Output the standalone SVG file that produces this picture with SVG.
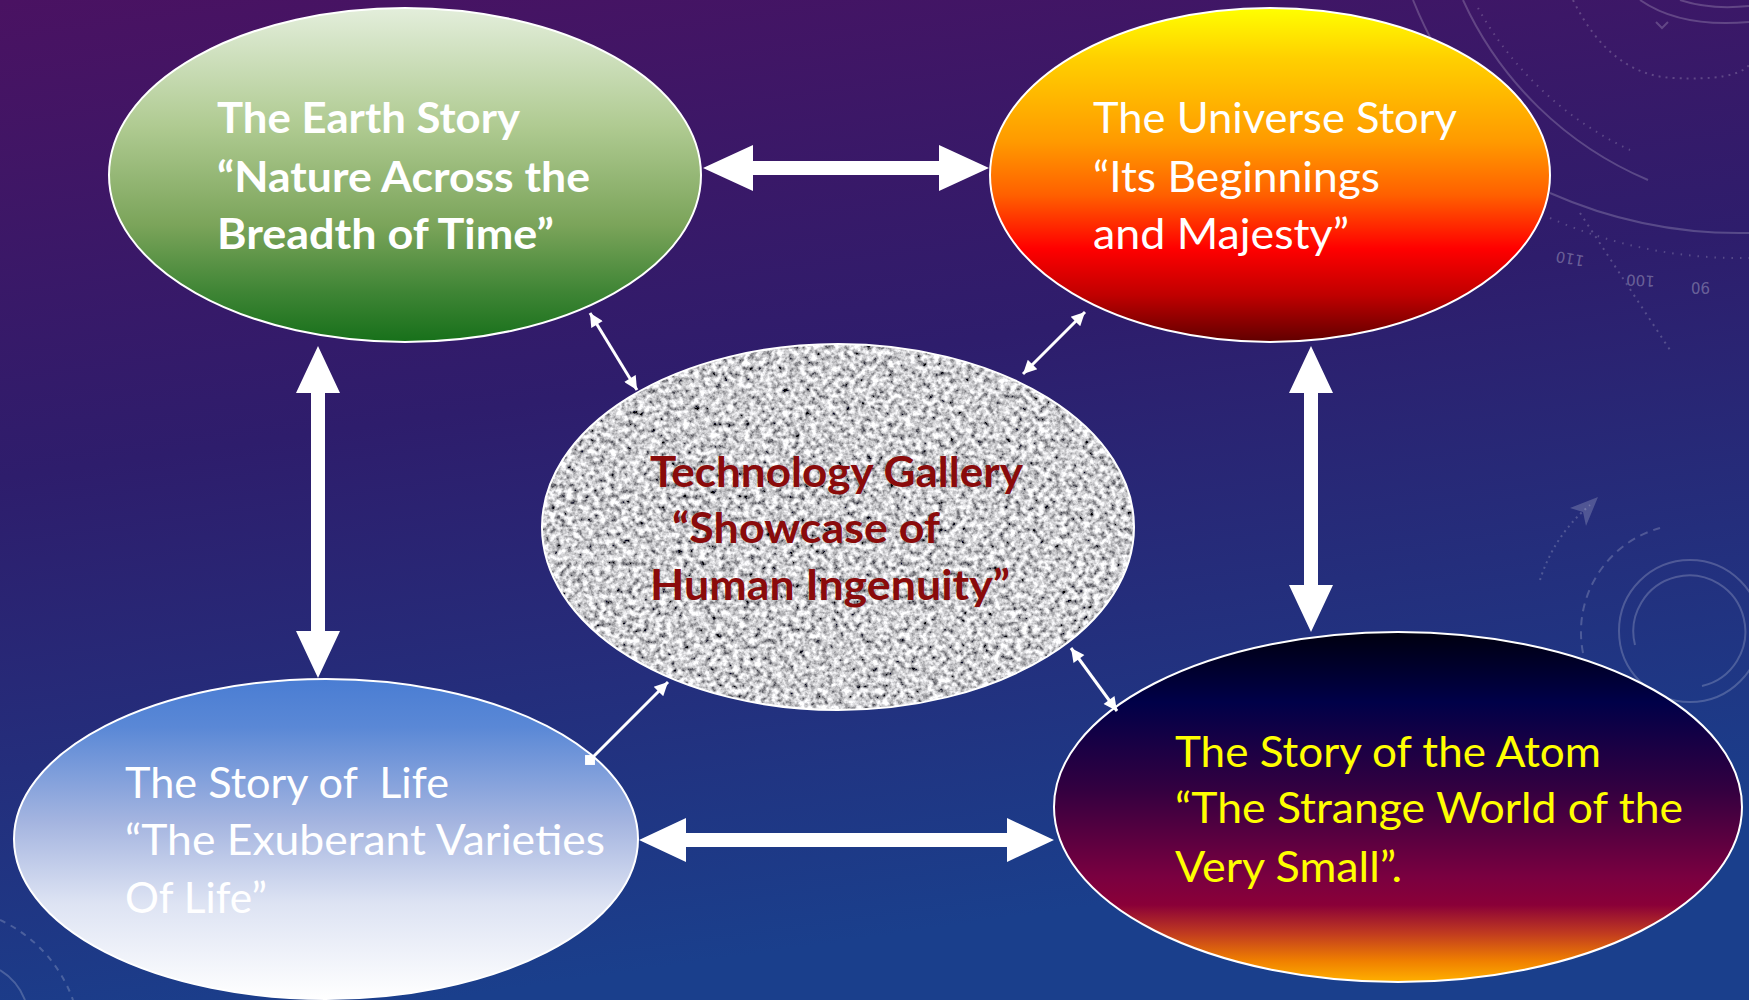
<svg xmlns="http://www.w3.org/2000/svg" width="1749" height="1000" viewBox="0 0 1749 1000">
<defs>
<linearGradient id="bg" x1="0" y1="0" x2="0.25" y2="1">
<stop offset="0" stop-color="#4a1262"/>
<stop offset="0.45" stop-color="#2e1d6c"/>
<stop offset="1" stop-color="#1a3f8c"/>
</linearGradient>
<linearGradient id="gEarth" x1="0" y1="0" x2="0" y2="1">
<stop offset="0" stop-color="#e3eedb"/>
<stop offset="0.35" stop-color="#b0cb92"/>
<stop offset="0.65" stop-color="#7ba45a"/>
<stop offset="0.85" stop-color="#3f8535"/>
<stop offset="1" stop-color="#17701a"/>
</linearGradient>
<linearGradient id="gUni" x1="0" y1="0" x2="0" y2="1">
<stop offset="0" stop-color="#ffff00"/>
<stop offset="0.15" stop-color="#ffd000"/>
<stop offset="0.4" stop-color="#ff9a00"/>
<stop offset="0.56" stop-color="#ff6000"/>
<stop offset="0.72" stop-color="#ff0000"/>
<stop offset="0.86" stop-color="#c00000"/>
<stop offset="1" stop-color="#600000"/>
</linearGradient>
<linearGradient id="gLife" x1="0" y1="0" x2="0" y2="1">
<stop offset="0" stop-color="#4a7dd3"/>
<stop offset="0.15" stop-color="#5a88d6"/>
<stop offset="0.45" stop-color="#a5b5e0"/>
<stop offset="0.7" stop-color="#dde3f3"/>
<stop offset="1" stop-color="#ffffff"/>
</linearGradient>
<linearGradient id="gAtom" x1="0" y1="0" x2="0" y2="1">
<stop offset="0" stop-color="#000010"/>
<stop offset="0.2" stop-color="#000048"/>
<stop offset="0.45" stop-color="#330040"/>
<stop offset="0.7" stop-color="#7a0040"/>
<stop offset="0.78" stop-color="#8a0038"/>
<stop offset="0.86" stop-color="#c03a20"/>
<stop offset="0.94" stop-color="#f08000"/>
<stop offset="1" stop-color="#ffb000"/>
</linearGradient>
<filter id="noise" x="0" y="0" width="100%" height="100%">
<feTurbulence type="fractalNoise" baseFrequency="0.18" numOctaves="3" seed="7" result="t"/>
<feColorMatrix in="t" type="matrix" values="2.0 0 0 0 -0.38  2.0 0 0 0 -0.38  2.0 0 0 0 -0.36  0 0 0 0 1" result="g"/>
<feComposite in="g" in2="SourceGraphic" operator="in"/>
</filter>
<marker id="ah" viewBox="0 0 10 10" refX="10" refY="5" markerWidth="5" markerHeight="4.5" orient="auto-start-reverse" markerUnits="strokeWidth">
<path d="M0,0 L10,5 L0,10 z" fill="#ffffff"/>
</marker>
<marker id="sq" viewBox="0 0 10 10" refX="5" refY="5" markerWidth="3.3" markerHeight="3.3" orient="0" markerUnits="strokeWidth">
<rect x="0" y="0" width="10" height="10" fill="#ffffff"/>
</marker>
<style>
.node{stroke:#ffffff;stroke-width:2}
.t{font-family:Lato,"Open Sans","Liberation Sans",sans-serif;font-size:42px}
.b{font-weight:bold}
.deco{fill:none;stroke:#ffffff;stroke-opacity:0.2;stroke-width:2}
.num{font-family:"DejaVu Sans",sans-serif;font-size:15px;fill:#ffffff;fill-opacity:0.3}
.thin{stroke:#ffffff;stroke-width:3;fill:none}
.thick{fill:#ffffff}
</style>
</defs>
<rect width="1749" height="1000" fill="url(#bg)"/>
<g id="background-decor">
<path class="deco" d="M1413,0 A420,420 0 0 0 1470,100"/>
<path class="deco" d="M1463,0 A356,356 0 0 0 1648,180"/>
<path class="deco" d="M1478,8 A340,340 0 0 0 1630,150" stroke-width="8" stroke-dasharray="1.5 6" stroke-opacity="0.15"/>
<path class="deco" d="M1550,193 A470,470 0 0 0 1749,233"/>
<path class="deco" d="M1550,218 A470,470 0 0 0 1749,258" stroke-width="14" stroke-dasharray="1.5 7" stroke-opacity="0.15"/>
<path class="deco" d="M1573,0 Q1610,75 1673,78 T1749,65" stroke-dasharray="2 5"/>
<path class="deco" d="M1580,213 L1670,350" stroke-dasharray="2 5"/>
<path class="deco" d="M1640,0 Q1680,28 1749,22"/>
<path class="deco" d="M1680,0 Q1710,10 1749,6"/>
<path class="deco" d="M1656,22 L1662,28 L1668,22"/>
<text class="num" transform="translate(1585,256) rotate(190)">110</text>
<text class="num" transform="translate(1655,276) rotate(183)">100</text>
<text class="num" transform="translate(1710,282) rotate(180)">90</text>
<circle class="deco" cx="1690" cy="631" r="71" stroke-width="3"/>
<path class="deco" d="M1635,645 A56,56 0 1 1 1702,686" stroke-width="4"/>
<path class="deco" d="M1583,653 A108,108 0 0 1 1660,528" stroke-dasharray="8 6"/>
<path class="deco" d="M1540,580 A160,160 0 0 1 1590,505" stroke-dasharray="2 4"/>
<path d="M1598,497 L1570,508 L1583,512 L1586,526 z" fill="#ffffff" fill-opacity="0.2"/>
<path class="deco" d="M0,920 A140,140 0 0 1 73,1000" stroke-dasharray="6 6"/>
<path class="deco" d="M0,970 A60,60 0 0 1 25,1000"/>
</g>
<g id="node-earth">
<ellipse class="node" cx="405" cy="175" rx="296" ry="167" fill="url(#gEarth)"/>
<text class="t b" fill="#ffffff"><tspan x="217" y="133" textLength="303" lengthAdjust="spacingAndGlyphs">The Earth Story</tspan></text>
<text class="t b" fill="#ffffff"><tspan x="217" y="192" textLength="373" lengthAdjust="spacingAndGlyphs">“Nature Across the</tspan></text>
<text class="t b" fill="#ffffff"><tspan x="217" y="249" textLength="337" lengthAdjust="spacingAndGlyphs">Breadth of Time”</tspan></text>
</g>
<g id="node-universe">
<ellipse class="node" cx="1270" cy="175" rx="280" ry="167" fill="url(#gUni)"/>
<text class="t" fill="#ffffff"><tspan x="1093" y="133" textLength="364" lengthAdjust="spacingAndGlyphs">The Universe Story</tspan></text>
<text class="t" fill="#ffffff"><tspan x="1093" y="192" textLength="287" lengthAdjust="spacingAndGlyphs">“Its Beginnings</tspan></text>
<text class="t" fill="#ffffff"><tspan x="1093" y="249" textLength="256" lengthAdjust="spacingAndGlyphs">and Majesty”</tspan></text>
</g>
<g id="node-technology">
<ellipse cx="838" cy="527" rx="296" ry="183" fill="#ffffff" filter="url(#noise)"/>
<ellipse class="node" cx="838" cy="527" rx="296" ry="183" fill="none"/>
<text class="t b" fill="#8a0b0b"><tspan x="650" y="487" textLength="373" lengthAdjust="spacingAndGlyphs">Technology Gallery</tspan></text>
<text class="t b" fill="#8a0b0b"><tspan x="672" y="543" textLength="268" lengthAdjust="spacingAndGlyphs">“Showcase of</tspan></text>
<text class="t b" fill="#8a0b0b"><tspan x="650" y="600" textLength="360" lengthAdjust="spacingAndGlyphs">Human Ingenuity”</tspan></text>
</g>
<g id="node-life">
<ellipse class="node" cx="326" cy="839" rx="312" ry="160" fill="url(#gLife)"/>
<text class="t" fill="#ffffff" style="white-space:pre"><tspan x="125" y="798" textLength="324" lengthAdjust="spacingAndGlyphs">The Story of  Life</tspan></text>
<text class="t" fill="#ffffff"><tspan x="125" y="855" textLength="480" lengthAdjust="spacingAndGlyphs">“The Exuberant Varieties</tspan></text>
<text class="t" fill="#ffffff"><tspan x="125" y="913" textLength="142" lengthAdjust="spacingAndGlyphs">Of Life”</tspan></text>
</g>
<g id="node-atom">
<ellipse class="node" cx="1398" cy="807" rx="344" ry="175" fill="url(#gAtom)"/>
<text class="t" fill="#ffff00"><tspan x="1175" y="767" textLength="426" lengthAdjust="spacingAndGlyphs">The Story of the Atom</tspan></text>
<text class="t" fill="#ffff00"><tspan x="1175" y="823" textLength="508" lengthAdjust="spacingAndGlyphs">“The Strange World of the</tspan></text>
<text class="t" fill="#ffff00"><tspan x="1175" y="882" textLength="227" lengthAdjust="spacingAndGlyphs">Very Small”.</tspan></text>
</g>
<g id="connectors">
<polygon class="thick" points="703,168 753,145 753,161 939,161 939,145 989,168 939,191 939,175 753,175 753,191"/>
<polygon class="thick" points="639,840 686,818 686,833 1007,833 1007,818 1054,840 1007,862 1007,847 686,847 686,862"/>
<polygon class="thick" points="318,346 340,393 325,393 325,631 340,631 318,678 296,631 311,631 311,393 296,393"/>
<polygon class="thick" points="1311,346 1333,393 1318,393 1318,585 1333,585 1311,632 1289,585 1304,585 1304,393 1289,393"/>
<line class="thin" x1="590" y1="313" x2="637" y2="390" marker-start="url(#ah)" marker-end="url(#ah)"/>
<line class="thin" x1="1085" y1="312" x2="1023" y2="374" marker-start="url(#ah)" marker-end="url(#ah)"/>
<line class="thin" x1="590" y1="760" x2="668" y2="682" marker-start="url(#sq)" marker-end="url(#ah)"/>
<line class="thin" x1="1071" y1="648" x2="1117" y2="711" marker-start="url(#ah)" marker-end="url(#ah)"/>
</g>
</svg>
